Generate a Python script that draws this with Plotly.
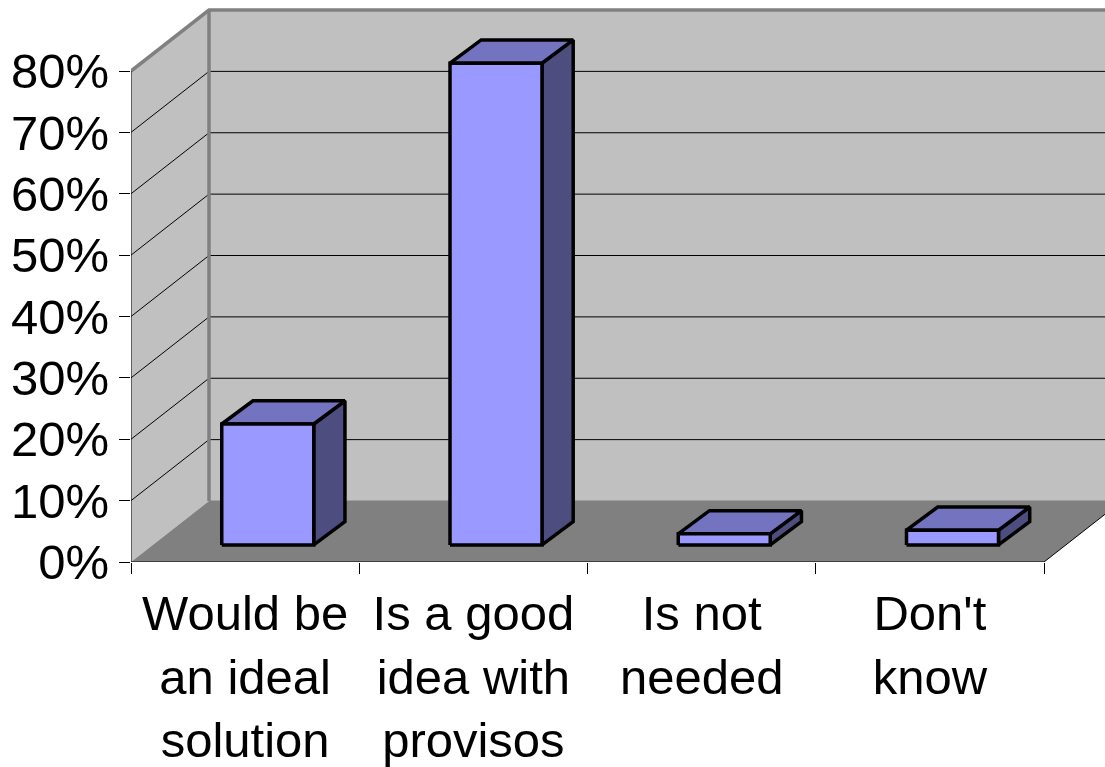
import plotly.graph_objects as go

categories = ["Would be<br>an ideal<br>solution", "Is a good<br>idea with<br>provisos",
              "Is not<br>needed", "Don't<br>know"]
values = [19.7, 78.5, 1.8, 2.4]
y_ticks = [0, 10, 20, 30, 40, 50, 60, 70, 80]

W, H = 1105, 767
L, B = 131, 205
PX_X = 228.25   # pixels per category
PX_Y = 6.1375   # pixels per percent
x_max = (W - L) / PX_X
y_max = (H - B) / PX_Y

DX, DY = 78 / PX_X, 61 / PX_Y           # depth of the floor in data units
BAR_W = 92 / PX_X                        # bar front width
BAR_OFF_X, BAR_OFF_Y = 0.29 * DX, 0.28 * DY   # bar front inset
BAR_DX, BAR_DY = 0.4 * DX, 0.38 * DY     # bar depth
N = len(categories)
TOP = y_ticks[-1]


def poly(xs, ys, fill, line=None, width=0):
    return go.Scatter(x=xs, y=ys, mode="lines", fill="toself", fillcolor=fill,
                      line=dict(color=line or fill, width=width), hoverinfo="skip",
                      showlegend=False)


def path(xs, ys, color, width, clip=True):
    return go.Scatter(x=xs, y=ys, mode="lines", line=dict(color=color, width=width),
                      hoverinfo="skip", showlegend=False, cliponaxis=clip)


fig = go.Figure()
# back wall, left wall, floor
fig.add_trace(poly([DX, N + DX, N + DX, DX, DX], [DY, DY, TOP + DY, TOP + DY, DY], "#C0C0C0"))
fig.add_trace(poly([0, DX, DX, 0, 0], [0, DY, TOP + DY, TOP, 0], "#C0C0C0"))
fig.add_trace(poly([0, N, N + DX, DX, 0], [0, 0, DY, DY, 0], "#808080"))

# gridlines
gx, gy = [], []
for t in y_ticks[1:-1]:
    gx += [0, DX, N + DX, None]
    gy += [t, t + DY, t + DY, None]
fig.add_trace(path(gx, gy, "#000000", 1))
# wall edges
fig.add_trace(path([0, DX, N + DX], [TOP, TOP + DY, TOP + DY], "#808080", 3.5, False))
fig.add_trace(path([DX, DX], [DY, TOP + DY], "#808080", 3.5))
fig.add_trace(path([DX, N + DX], [DY, DY], "#808080", 1))
fig.add_trace(path([N, N + DX], [0, DY], "#000000", 1))
# front axis lines
fig.add_trace(path([0, 0], [0, TOP], "#000000", 1, False))
fig.add_trace(path([0, N], [0, 0], "#000000", 1, False))

# bars
for i, v in enumerate(values):
    x0 = i + 0.5 + BAR_OFF_X - BAR_W / 2
    x1 = x0 + BAR_W
    y0 = BAR_OFF_Y
    y1 = y0 + v
    fig.add_trace(poly([x1, x1 + BAR_DX, x1 + BAR_DX, x1, x1],
                       [y0, y0 + BAR_DY, y1 + BAR_DY, y1, y0], "#4D4D80", "#000000", 3.5))
    fig.add_trace(poly([x0, x1, x1 + BAR_DX, x0 + BAR_DX, x0],
                       [y1, y1, y1 + BAR_DY, y1 + BAR_DY, y1], "#7373BF", "#000000", 3.5))
    fig.add_trace(poly([x0, x1, x1, x0, x0], [y0, y0, y1, y1, y0], "#9999FF", "#000000", 3.5))

font = dict(family="Liberation Sans", size=49, color="#000000")
fig.update_layout(
    template="none",
    width=W, height=H, margin=dict(l=L, r=0, t=0, b=B, pad=0),
    paper_bgcolor="#FFFFFF", plot_bgcolor="#FFFFFF", showlegend=False,
    xaxis=dict(range=[0, x_max], automargin=False, showgrid=False, zeroline=False, showline=False,
               tickmode="array", tickvals=[i + 0.5 for i in range(N)], ticktext=categories,
               ticks="", tickfont=font, ticklabelstandoff=18, tickangle=0,
               minor=dict(tickmode="array", tickvals=list(range(N + 1)), ticks="outside",
                          ticklen=11, tickcolor="#000000", tickwidth=1, showgrid=False)),
    yaxis=dict(range=[0, y_max], automargin=False, showgrid=False, zeroline=False, showline=False,
               tickmode="array", tickvals=y_ticks, ticktext=[f"{t}%" for t in y_ticks],
               ticks="outside", ticklen=11, tickcolor="#000000", tickwidth=1,
               tickfont=font, ticklabelstandoff=0),
)
fig.write_html("out.html", config=dict(displayModeBar=False),
               post_script="document.body.style.margin='0';")
